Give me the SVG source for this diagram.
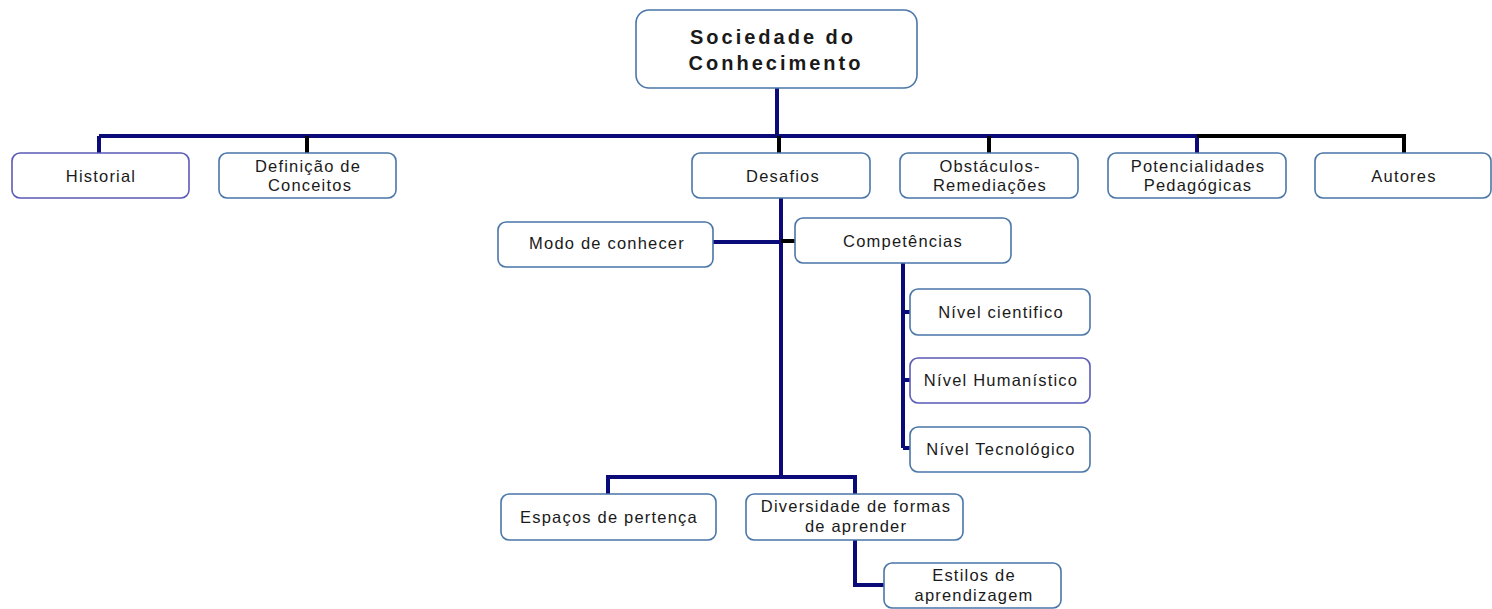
<svg xmlns="http://www.w3.org/2000/svg" width="1492" height="609" viewBox="0 0 1492 609">
<style>
.box{fill:#fff;stroke:#4a76a8;stroke-width:1.6}
.boxp{fill:#fff;stroke:#5a5ab8;stroke-width:1.6}
.t{font-family:"Liberation Sans",Arial,sans-serif;font-size:16.5px;fill:#1a1a1a;text-anchor:middle;letter-spacing:1.2px}
.tb{font-family:"Liberation Sans",Arial,sans-serif;font-size:20px;font-weight:bold;fill:#1a1a1a;text-anchor:middle;letter-spacing:3px}
.n{fill:none;stroke:#0a0a78;stroke-width:4}
.k{fill:none;stroke:#000;stroke-width:4}
</style>
<g id="connectors">
<path class="n" d="M777 88V136M99 136H1197M99 136V153M1197 136V153"/>
<path class="k" d="M1197 136H1404V153M307 136V153M779 136V153M989 136V153"/>
<path class="n" d="M781 198V477M713 242H781M608 494V477H855V494"/>
<path class="k" d="M781 241H795"/>
<path class="n" d="M903 263V448M903 312H910M903 380H910M903 448H910"/>
<path class="n" d="M855 540V585H884"/>
</g>
<g id="root"><rect class="box" x="636" y="10" width="281" height="78" rx="13"/><text class="tb" x="773" y="44">Sociedade do</text><text class="tb" x="776" y="70">Conhecimento</text></g>
<g id="historial"><rect class="boxp" x="12" y="153" width="177" height="45" rx="8"/><text class="t" x="101" y="182">Historial</text></g>
<g id="definicao"><rect class="box" x="219" y="153" width="177" height="45" rx="8"/><text class="t" x="308" y="172">Definição de</text><text class="t" x="310" y="191">Conceitos</text></g>
<g id="desafios"><rect class="box" x="692" y="153" width="178" height="45" rx="8"/><text class="t" x="783" y="182">Desafios</text></g>
<g id="obstaculos"><rect class="box" x="900" y="153" width="178" height="45" rx="8"/><text class="t" x="990" y="172">Obstáculos-</text><text class="t" x="990" y="191">Remediações</text></g>
<g id="potencialidades"><rect class="box" x="1108" y="153" width="178" height="45" rx="8"/><text class="t" x="1198" y="172">Potencialidades</text><text class="t" x="1198" y="191">Pedagógicas</text></g>
<g id="autores"><rect class="box" x="1315" y="153" width="176" height="45" rx="8"/><text class="t" x="1404" y="182">Autores</text></g>
<g id="modo"><rect class="box" x="498" y="222" width="215" height="45" rx="8"/><text class="t" x="607" y="249">Modo de conhecer</text></g>
<g id="competencias"><rect class="box" x="795" y="218" width="216" height="45" rx="8"/><text class="t" x="903" y="247">Competências</text></g>
<g id="cientifico"><rect class="box" x="910" y="289" width="180" height="46" rx="8"/><text class="t" x="1001" y="318">Nível cientifico</text></g>
<g id="humanistico"><rect class="boxp" x="910" y="358" width="180" height="45" rx="8"/><text class="t" x="1001" y="386">Nível Humanístico</text></g>
<g id="tecnologico"><rect class="box" x="910" y="427" width="180" height="45" rx="8"/><text class="t" x="1001" y="455">Nível Tecnológico</text></g>
<g id="espacos"><rect class="box" x="501" y="494" width="215" height="46" rx="8"/><text class="t" x="609" y="523">Espaços de pertença</text></g>
<g id="diversidade"><rect class="box" x="746" y="494" width="217" height="46" rx="8"/><text class="t" x="856" y="512">Diversidade de formas</text><text class="t" x="856" y="532">de aprender</text></g>
<g id="estilos"><rect class="box" x="884" y="563" width="177" height="45" rx="8"/><text class="t" x="974" y="581">Estilos de</text><text class="t" x="974" y="601">aprendizagem</text></g>
</svg>
